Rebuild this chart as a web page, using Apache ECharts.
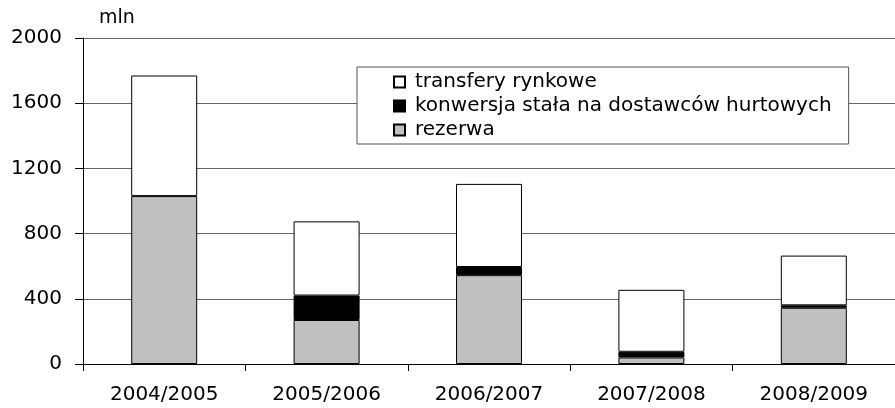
<!DOCTYPE html>
<html>
<head>
<meta charset="utf-8">
<script src="https://cdn.jsdelivr.net/npm/echarts@6/dist/echarts.min.js"></script>
<style>
  html, body { margin: 0; padding: 0; background: #fff; }
  #main { width: 895px; height: 408px; }
</style>
</head>
<body>
<div id="main"></div>
<script>
// dane
const categories = ['2004/2005', '2005/2006', '2006/2007', '2007/2008', '2008/2009'];
const rezerwa = [1030, 270, 545, 40, 345];
const konwersja = [0, 150, 50, 35, 15];
const transfery = [740, 455, 510, 380, 305];
const seriesNames = ['transfery rynkowe', 'konwersja stała na dostawców hurtowych', 'rezerwa'];

const FONT = 'DejaVu Sans, sans-serif';
const chart = echarts.init(document.getElementById('main'));

function barSeries(name, data, color) {
    return {
        name: name,
        type: 'bar',
        stack: 'total',
        barWidth: 66,
        itemStyle: { color: color, borderColor: '#000', borderWidth: 1 },
        // zero segments would leave a stray border line
        data: data.map(v => (v === 0 ? '-' : v))
    };
}

chart.setOption({
    animation: false,
    textStyle: { fontFamily: FONT },
    title: {
        text: 'mln',
        left: 99,
        top: 9,
        padding: 0,
        textStyle: { fontSize: 19, fontWeight: 'normal', color: '#000', fontFamily: FONT }
    },
    legend: {
        orient: 'vertical',
        left: 357,
        top: 67,
        padding: [5, 17, 4, 36],
        itemGap: 4,
        itemWidth: 11,
        itemHeight: 11,
        icon: 'rect',
        backgroundColor: '#fff',
        borderColor: '#555',
        borderWidth: 1,
        data: seriesNames,
        textStyle: { fontSize: 20, color: '#000', fontFamily: FONT, padding: [0, 0, 0, 5] }
    },
    grid: { left: 83, top: 38, bottom: 44, right: -11 },
    xAxis: {
        type: 'category',
        data: categories,
        axisLine: { lineStyle: { color: '#000', width: 1 } },
        axisTick: { show: true, inside: false, length: 7, lineStyle: { color: '#000' } },
        axisLabel: { fontSize: 20, color: '#000', margin: 21, fontFamily: FONT }
    },
    yAxis: {
        type: 'value',
        min: 0,
        max: 2000,
        interval: 400,
        axisLine: { show: true, lineStyle: { color: '#000', width: 1 } },
        axisTick: { show: true, inside: false, length: 8, lineStyle: { color: '#000' } },
        axisLabel: { fontSize: 20, color: '#000', margin: 21, fontFamily: FONT, formatter: v => String(v) },
        splitLine: { lineStyle: { color: '#666', width: 1 } }
    },
    series: [
        barSeries(seriesNames[2], rezerwa, '#c0c0c0'),
        barSeries(seriesNames[1], konwersja, '#000000'),
        barSeries(seriesNames[0], transfery, '#ffffff')
    ]
});
</script>
</body>
</html>
